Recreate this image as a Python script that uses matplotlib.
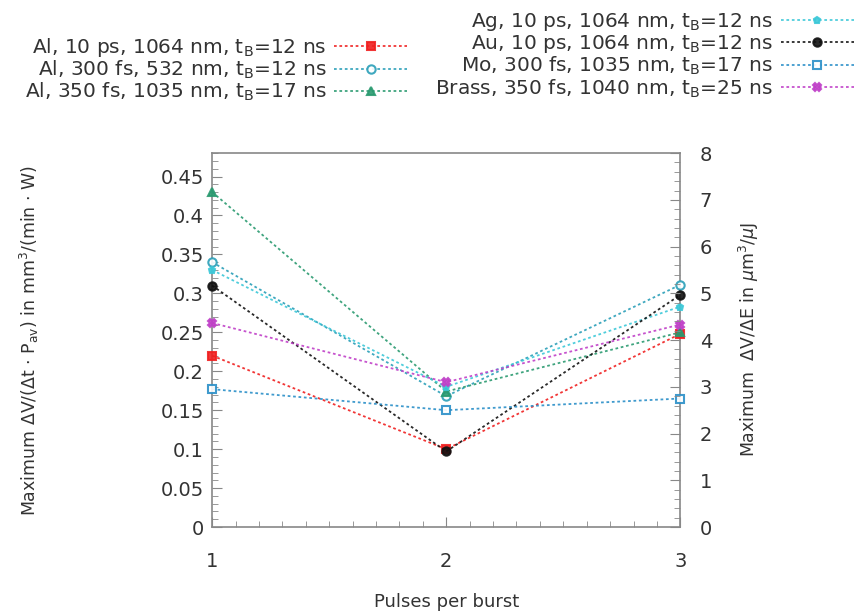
import matplotlib
matplotlib.use("Agg")
import matplotlib.pyplot as plt
from matplotlib.ticker import MultipleLocator, AutoMinorLocator

PULSES = [1, 2, 3]

AL_10PS    = [0.22, 0.100, 0.248]
AL_300FS   = [0.34, 0.168, 0.311]
AL_350FS   = [0.43, 0.174, 0.250]
AG_10PS    = [0.33, 0.180, 0.283]
AU_10PS    = [0.31, 0.097, 0.298]
MO_300FS   = [0.177, 0.150, 0.165]
BRASS_350FS = [0.262, 0.186, 0.260]

LABELS_LEFT = [
    r"Al, 10 ps, 1064 nm, t$_\mathregular{B}$=12 ns",
    r"Al, 300 fs, 532 nm, t$_\mathregular{B}$=12 ns",
    r"Al, 350 fs, 1035 nm, t$_\mathregular{B}$=17 ns",
]
LABELS_RIGHT = [
    r"Ag, 10 ps, 1064 nm, t$_\mathregular{B}$=12 ns",
    r"Au, 10 ps, 1064 nm, t$_\mathregular{B}$=12 ns",
    r"Mo, 300 fs, 1035 nm, t$_\mathregular{B}$=17 ns",
    r"Brass, 350 fs, 1040 nm, t$_\mathregular{B}$=25 ns",
]

plt.rcParams["font.family"] = ["DejaVu Sans"]
plt.rcParams["mathtext.fontset"] = "dejavusans"

fig = plt.figure(figsize=(8.59, 6.15), dpi=100)
ax = fig.add_axes([0.247, 0.143, 0.545, 0.608])

DASH = (0, (1.5, 1.5))

series = [
    (AL_10PS,    "#f02020", "s", "#f02020", LABELS_LEFT[0]),
    (AL_300FS,   "#2a9fb8", "o", "white",   LABELS_LEFT[1]),
    (AL_350FS,   "#2a9a70", "^", "#2a9a70", LABELS_LEFT[2]),
    (AG_10PS,    "#3cc8d8", "p", "#3cc8d8", LABELS_RIGHT[0]),
    (AU_10PS,    "#111111", "o", "#111111", LABELS_RIGHT[1]),
    (MO_300FS,   "#2a8fc8", "s", "white",   LABELS_RIGHT[2]),
    (BRASS_350FS, "#c040c8", "X", "#c040c8", LABELS_RIGHT[3]),
]

handles = []
for vals, col, mk, fc, lab in series:
    ms = 4.5 if mk == "p" else 6
    h, = ax.plot(PULSES, vals, color=col, marker=mk, markerfacecolor=fc,
                 markeredgecolor=col, markeredgewidth=1.5, label=lab,
                 linestyle=DASH, linewidth=1.3, clip_on=False, markersize=ms,
                 alpha=0.9, zorder=3)
    handles.append(h)

ax.set_xlim(1, 3)
ax.set_ylim(0, 0.48)
ax.xaxis.set_major_locator(MultipleLocator(1))
ax.xaxis.set_minor_locator(AutoMinorLocator(10))
ax.set_yticks([0, 0.05, 0.1, 0.15, 0.2, 0.25, 0.3, 0.35, 0.4, 0.45])
ax.set_yticklabels(["0", "0.05", "0.1", "0.15", "0.2", "0.25", "0.3", "0.35", "0.4", "0.45"])
ax.yaxis.set_minor_locator(AutoMinorLocator(5))

for sp in ax.spines.values():
    sp.set_color("#888888")
    sp.set_linewidth(1.2)
ax.tick_params(which="both", direction="in", colors="#888888", labelcolor="#333333",
               labelsize=14, top=False, right=False)
ax.tick_params(which="major", length=7)
ax.tick_params(which="minor", length=4)
ax.tick_params(axis="x", pad=18)
ax.tick_params(axis="y", pad=6)

ax2 = ax.twinx()
ax2.set_ylim(0, 8)
ax2.yaxis.set_major_locator(MultipleLocator(1))
ax2.yaxis.set_minor_locator(AutoMinorLocator(5))
ax2.tick_params(which="both", direction="in", colors="#888888", labelcolor="#333333",
                labelsize=14, pad=14)
ax2.tick_params(which="major", length=7)
ax2.tick_params(which="minor", length=4)
for sp in ax2.spines.values():
    sp.set_visible(False)

ax.set_xlabel("Pulses per burst", fontsize=13, color="#333333", labelpad=16)
ax.set_ylabel(r"Maximum $\Delta$V/($\Delta$t $\cdot$ P$_\mathregular{av}$) in mm$^\mathregular{3}$/(min $\cdot$ W)",
              fontsize=12.5, color="#333333")
ax2.set_ylabel(r"Maximum  $\Delta$V/$\Delta$E in $\mu$m$^\mathregular{3}$/$\mu$J",
               fontsize=12.5, color="#333333", rotation=90)
ax.yaxis.set_label_coords(-0.365, 0.5)
ax2.yaxis.set_label_coords(1.12, 0.5)

leg_kw = dict(frameon=False, markerfirst=False, fontsize=14.5, handlelength=3.6,
              handletextpad=0.4, labelspacing=0.0, borderaxespad=0)
leg1 = fig.legend(handles=handles[:3], loc="upper right",
                  bbox_to_anchor=(0.483, 0.955), **leg_kw)
for t in leg1.get_texts():
    t.set_color("#333333")
leg2 = fig.legend(handles=handles[3:], loc="upper right",
                  bbox_to_anchor=(1.003, 0.995), **leg_kw)
for t in leg2.get_texts():
    t.set_color("#333333")

fig.savefig("out.png", dpi=100)
